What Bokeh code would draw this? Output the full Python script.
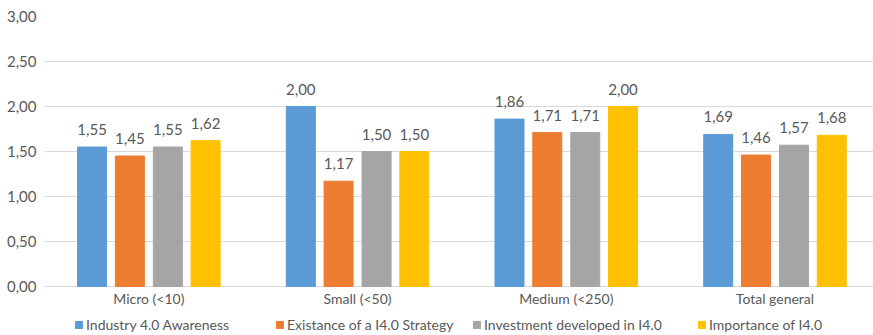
from bokeh.plotting import figure
from bokeh.models import ColumnDataSource, Range1d, FixedTicker, Legend, LegendItem
from bokeh.core.properties import value
from bokeh.embed import file_html
from bokeh.resources import INLINE

categories = ["Micro (<10)", "Small (<50)", "Medium (<250)", "Total general"]
series_names = ["Industry 4.0 Awareness", "Existance of a I4.0 Strategy",
                "Investment developed in I4.0", "Importance of I4.0"]
awareness = [1.55, 2.00, 1.86, 1.69]
strategy = [1.45, 1.17, 1.71, 1.46]
investment = [1.55, 1.50, 1.71, 1.57]
importance = [1.62, 1.50, 2.00, 1.68]
y_ticks = [0, 0.5, 1.0, 1.5, 2.0, 2.5, 3.0]
y_tick_labels = ["0,00", "0,50", "1,00", "1,50", "2,00", "2,50", "3,00"]

colors = ["#5B9BD5", "#ED7D31", "#A5A5A5", "#FFC000"]
series = [awareness, strategy, investment, importance]
offsets = [-0.272, -0.091, 0.091, 0.272]
bar_w = 0.139
FONT = "Lato"
TXT = "#595959"
legend_x = [30, 231, 428, 653]   # screen px from frame left, one per legend entry

# frame runs from y=16 to the bottom of the page; value 0 sits 50px above the bottom
p = figure(frame_width=829, frame_height=319, output_backend="svg", toolbar_location=None,
           x_range=Range1d(0, 3.972), y_range=Range1d(3.0 - 319 / 90, 3.0),
           x_axis_location=None,
           min_border_left=44, min_border_right=0, min_border_top=16,
           min_border_bottom=0)
p.outline_line_color = None
p.background_fill_color = "white"
p.border_fill_color = "white"

centers = [i + 0.5 for i in range(len(categories))]
items = []
for name, vals, col, off in zip(series_names, series, colors, offsets):
    src = ColumnDataSource(dict(
        x=[c + off for c in centers], top=vals,
        lbl=[f"{v:.2f}".replace(".", ",") for v in vals]))
    r = p.vbar(x="x", top="top", bottom=0, width=bar_w, color=col, source=src)
    p.text(x="x", y="top", text="lbl", source=src, text_align="center",
           text_baseline="bottom", y_offset=-12, text_color=TXT,
           text_font=value(FONT), text_font_size="15px")
    items.append(LegendItem(label=name, renderers=[r]))

# category labels under the baseline
cat_src = ColumnDataSource(dict(x=centers, y=[0] * len(categories), t=categories))
p.text(x="x", y="y", text="t", source=cat_src, text_align="center",
       text_baseline="top", y_offset=3, text_color=TXT,
       text_font=value(FONT), text_font_size="14px")

p.xgrid.visible = False

p.yaxis.ticker = FixedTicker(ticks=y_ticks)
p.yaxis.major_label_overrides = {t: l for t, l in zip(y_ticks, y_tick_labels)}
p.yaxis.axis_line_color = None
p.yaxis.major_tick_line_color = None
p.yaxis.minor_tick_line_color = None
p.yaxis.major_tick_out = 0
p.yaxis.major_tick_in = 0
p.yaxis.major_label_text_font = FONT
p.yaxis.major_label_text_font_size = "15px"
p.yaxis.major_label_text_color = TXT
p.yaxis.major_label_standoff = 8
p.ygrid.grid_line_color = "#D9D9D9"

for item, lx in zip(items, legend_x):
    lg = Legend(items=[item], orientation="horizontal", location=(lx, 2),
                label_text_font=FONT, label_text_font_size="14px",
                label_text_color=TXT, glyph_width=9, glyph_height=9,
                label_standoff=3, spacing=0, padding=0, margin=0,
                border_line_alpha=0, background_fill_alpha=0)
    p.add_layout(lg, "center")

open("out.html", "w").write(file_html(p, INLINE))
